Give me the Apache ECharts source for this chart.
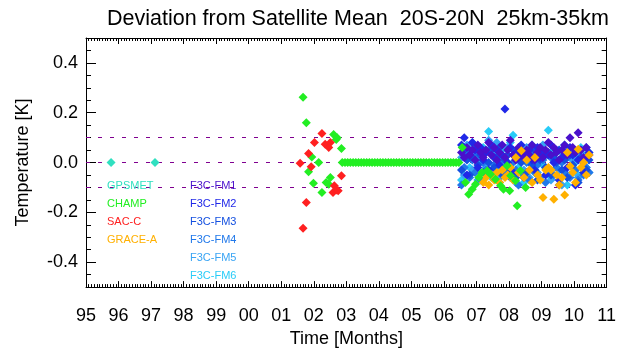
<!DOCTYPE html>
<html lang="en">
<head>
    <meta charset="UTF-8">
    <title>Deviation from Satellite Mean</title>
    <style>
        html, body { margin: 0; padding: 0; background: #fff; }
        #chart { width: 619px; height: 353px; }
    </style>
</head>
<body>
    <div id="chart"></div>
    <script src="https://cdn.jsdelivr.net/npm/echarts@6.0.0/dist/echarts.min.js"></script>
    <script>
        // reference lines (K)
        const refLines = [0.1, 0.0, -0.1];

        // GPSMET: [year, K]
        const gpsmet = [[1995.77, 0.0], [1997.12, 0.0]];

        // SAC-C: [year, K]
        const sacc = [
            [2001.58, -0.003], [2001.67, -0.264], [2001.77, -0.16], [2001.84, 0.036],
            [2001.92, -0.017], [2002.02, 0.08], [2002.25, 0.117], [2002.35, 0.073],
            [2002.46, 0.06], [2002.51, 0.08], [2002.59, -0.12], [2002.63, -0.093],
            [2002.69, -0.11], [2002.75, -0.113], [2002.85, -0.053]
        ];

        // CHAMP early scatter: [year, K]
        const champEarly = [
            [2001.67, 0.262], [2001.77, 0.16], [2001.84, -0.037], [2001.94, 0.022],
            [2001.99, -0.083], [2002.15, 0.0], [2002.25, -0.12], [2002.38, -0.08],
            [2002.46, -0.087], [2002.51, -0.06], [2002.61, 0.113], [2002.69, 0.093],
            [2002.72, 0.10], [2002.85, 0.056]
        ];
        // CHAMP monthly values from champFlatStart
        const champFlatStart = 2002.875;
        const champFlat = [
            0, 0, 0, 0, 0, 0, 0, 0, 0, 0, 0, 0,
            0, 0, 0, 0, 0, 0, 0, 0, 0, 0, 0, 0,
            0, 0, 0, 0, 0, 0, 0, 0, 0, 0, 0, 0,
            0, 0, 0, 0, 0, 0, 0, 0
        ];
        // CHAMP late scatter: [year, K]
        const champLate = [
            [2006.56, 0.06], [2006.66, -0.08], [2006.76, -0.127], [2006.87, -0.107],
            [2006.97, -0.087], [2007.07, -0.06], [2007.17, -0.04], [2007.33, -0.033],
            [2007.43, -0.047], [2007.58, -0.067], [2007.74, -0.093], [2007.83, -0.107],
            [2007.94, -0.013], [2008.05, -0.053], [2008.20, -0.073], [2008.25, -0.173],
            [2008.51, -0.1], [2008.35, -0.033], [2008.02, -0.113]
        ];

        // GRACE-A monthly values from graceStart
        const graceStart = 2007.21;
        const grace = [
            -0.08, -0.06, -0.09, -0.05, -0.07, -0.04, -0.08, -0.03, -0.06, -0.05,
            -0.02, -0.07, 0.02, -0.04, 0.047, -0.06, 0.01, -0.03, -0.08, 0.02,
            -0.05, -0.07, -0.14, -0.03, -0.02, -0.03, -0.147, -0.05, -0.09, -0.06,
            -0.13, 0.04, -0.015, -0.04, -0.08, 0.053, -0.02, 0.00, -0.05, 0.03
        ];

        // FORMOSAT-3/COSMIC monthly values from fmStart
        const fmStart = 2006.54;
        const fm1 = [
            0.04, 0.02, 0.06, 0.03, 0.05, 0.01, 0.07, 0.04, 0.02, 0.05, 0.08, 0.03,
            0.06, 0.01, 0.04, 0.07, 0.02, 0.05, 0.09, 0.03, 0.01, 0.06, 0.04, 0.02,
            0.05, 0.03, 0.07, 0.01, 0.04, 0.06, 0.02, 0.05, 0.08, 0.03, 0.06, 0.04,
            0.01, 0.05, 0.07, 0.03, 0.10, 0.06, 0.04, 0.12, 0.05, 0.02, 0.06, 0.03
        ];
        const fm2 = [
            0.07, 0.10, -0.05, 0.03, 0.08, 0.05, -0.02, 0.06, 0.01, 0.04, -0.03, 0.07,
            0.02, 0.05, -0.01, 0.03, 0.215, 0.00, 0.06, -0.04, 0.04, 0.02, 0.07, -0.06,
            0.03, 0.05, 0.01, -0.03, 0.06, 0.02, 0.04, -0.05, 0.03, 0.07, 0.00, 0.05,
            -0.07, 0.02, 0.04, -0.02, 0.06, 0.03, -0.09, 0.01, 0.05, -0.04, 0.02, 0.04
        ];
        const fm3 = [
            -0.03, 0.05, 0.01, -0.05, 0.02, 0.06, -0.01, 0.03, -0.04, 0.04, 0.00, 0.05,
            -0.02, 0.02, 0.06, -0.05, 0.01, 0.03, -0.03, 0.05, -0.06, 0.02, 0.00, 0.04,
            -0.04, 0.03, -0.01, 0.05, -0.07, 0.01, 0.03, -0.02, 0.04, -0.05, 0.02, 0.00,
            0.05, -0.03, 0.01, -0.06, 0.03, -0.01, 0.04, -0.08, 0.02, 0.00, -0.03, 0.01
        ];
        const fm4 = [
            -0.09, -0.02, 0.04, -0.06, 0.01, -0.04, 0.03, -0.07, 0.00, -0.03, 0.05, -0.05,
            -0.01, 0.02, -0.08, 0.01, -0.04, 0.03, -0.06, 0.00, -0.03, -0.09, 0.02, -0.05,
            0.00, -0.07, 0.03, -0.04, -0.01, -0.06, 0.01, -0.08, -0.03, 0.02, -0.05, -0.02,
            -0.09, 0.00, -0.04, 0.02, -0.06, -0.01, -0.03, -0.07, 0.01, -0.05, -0.02, -0.04
        ];
        const fm5 = [
            0.02, -0.05, 0.07, 0.05, -0.03, 0.04, -0.07, 0.01, 0.05, -0.02, 0.09, -0.04,
            0.03, 0.08, -0.06, 0.02, -0.01, 0.06, -0.05, 0.03, -0.08, 0.01, 0.04, -0.03,
            0.06, -0.06, 0.02, 0.00, -0.04, 0.05, 0.07, -0.02, 0.03, -0.07, 0.01, 0.04,
            -0.03, -0.09, 0.02, 0.05, -0.05, 0.01, 0.03, -0.06, 0.04, -0.02, 0.06, -0.04
        ];
        const fm6 = [
            -0.07, 0.05, 0.02, -0.02, 0.08, 0.06, 0.03, -0.04, 0.06, 0.00, 0.125, -0.06,
            0.02, 0.07, -0.03, 0.05, 0.01, -0.05, 0.08, 0.11, 0.03, -0.02, 0.06, -0.08,
            0.04, 0.00, 0.07, -0.04, 0.02, 0.05, -0.01, 0.03, 0.13, -0.06, 0.05, 0.01,
            -0.03, 0.04, 0.07, -0.09, 0.02, 0.05, 0.00, -0.05, 0.06, 0.03, -0.02, 0.04
        ];

        const colors = {
            'GPSMET': '#30e0c0',
            'CHAMP': '#22ee22',
            'SAC-C': '#ff2020',
            'GRACE-A': '#ffb000',
            'F3C-FM1': '#4a10cc',
            'F3C-FM2': '#2028e8',
            'F3C-FM3': '#1450e0',
            'F3C-FM4': '#2078ea',
            'F3C-FM5': '#38a4f4',
            'F3C-FM6': '#28ccf8'
        };

        function monthly(start, values) {
            return values.map((v, i) => [start + i / 12, v]);
        }

        const font = 'Liberation Sans, Arial, Helvetica, sans-serif';
        const majorY = [-0.4, -0.2, 0, 0.2, 0.4];
        const minorY = [-0.45, -0.35, -0.3, -0.25, -0.15, -0.1, -0.05, 0.05, 0.1, 0.15, 0.25, 0.3, 0.35, 0.45];

        function dots(name, data) {
            return {
                name: name,
                type: 'scatter',
                symbol: 'diamond',
                symbolSize: 9,
                itemStyle: { color: colors[name], opacity: 1 },
                data: data,
                z: 3
            };
        }

        function xAx(pos) {
            return {
                type: 'value', min: 1995, max: 2011, interval: 1, position: pos,
                axisLine: { show: true, onZero: false, lineStyle: { color: '#000', width: 1 } },
                axisTick: { show: true, inside: true, length: 6, lineStyle: { color: '#000' } },
                minorTick: { show: true, splitNumber: 12, length: 3, lineStyle: { color: '#000' } },
                splitLine: { show: false },
                axisLabel: {
                    show: pos === 'bottom', margin: 20, fontSize: 18, color: '#000', fontFamily: font,
                    formatter: v => String(v % 100).padStart(2, '0')
                },
                name: pos === 'bottom' ? 'Time [Months]' : '',
                nameLocation: 'middle', nameGap: 42,
                nameTextStyle: { fontSize: 18, color: '#000', fontFamily: font }
            };
        }

        function yAx(pos, ticks, len, main) {
            return {
                type: 'value', min: -0.5, max: 0.5, position: pos,
                axisLine: { show: main, onZero: false, lineStyle: { color: '#000', width: 1 } },
                axisTick: { show: true, inside: true, length: len, customValues: ticks, lineStyle: { color: '#000' } },
                splitLine: { show: false },
                axisLabel: {
                    show: main && pos === 'left', customValues: majorY, margin: 8,
                    fontSize: 18, color: '#000', fontFamily: font,
                    formatter: v => v.toFixed(1)
                },
                name: main && pos === 'left' ? 'Temperature [K]' : '',
                nameLocation: 'middle', nameGap: 54, nameRotate: 90,
                nameTextStyle: { fontSize: 18, color: '#000', fontFamily: font }
            };
        }

        const chart = echarts.init(document.getElementById('chart'));

        const series = [
            dots('F3C-FM6', monthly(fmStart, fm6)),
            dots('F3C-FM5', monthly(fmStart, fm5)),
            dots('F3C-FM4', monthly(fmStart, fm4)),
            dots('F3C-FM3', monthly(fmStart, fm3)),
            dots('F3C-FM2', monthly(fmStart, fm2)),
            dots('F3C-FM1', monthly(fmStart, fm1)),
            dots('GRACE-A', monthly(graceStart, grace)),
            dots('CHAMP', champEarly.concat(monthly(champFlatStart, champFlat), champLate)),
            dots('SAC-C', sacc),
            dots('GPSMET', gpsmet)
        ];
        series[series.length - 1].markLine = {
            silent: true,
            symbol: ['none', 'none'],
            label: { show: false },
            lineStyle: { color: '#800090', width: 1, type: [4, 8] },
            data: refLines.map(v => ({ yAxis: v })),
            z: 1
        };

        const legendBase = {
            orient: 'vertical',
            itemWidth: 0,
            itemHeight: 0,
            itemGap: 4,
            selectedMode: false,
            textStyle: { fontSize: 11, fontFamily: font, lineHeight: 14, padding: 0 }
        };
        const leftNames = ['GPSMET', 'CHAMP', 'SAC-C', 'GRACE-A'];
        const rightNames = ['F3C-FM1', 'F3C-FM2', 'F3C-FM3', 'F3C-FM4', 'F3C-FM5', 'F3C-FM6'];

        chart.setOption({
            backgroundColor: '#fff',
            animation: false,
            title: {
                text: 'Deviation from Satellite Mean  20S-20N  25km-35km',
                left: 102, top: 3,
                textStyle: { fontSize: 21.5, fontWeight: 'normal', color: '#000', fontFamily: font }
            },
            legend: [
                Object.assign({}, legendBase, {
                    left: 97, top: 174,
                    data: leftNames.map(n => ({ name: n, textStyle: { color: colors[n] } }))
                }),
                Object.assign({}, legendBase, {
                    left: 180, top: 174,
                    data: rightNames.map(n => ({ name: n, textStyle: { color: colors[n] } }))
                })
            ],
            grid: { left: 86, right: 12, top: 38, bottom: 64 },
            xAxis: [xAx('bottom'), xAx('top')],
            yAxis: [
                yAx('left', majorY, 10, true),
                yAx('left', minorY, 5, false),
                yAx('right', majorY, 10, true),
                yAx('right', minorY, 5, false)
            ],
            series: series
        });
    </script>
</body>
</html>
